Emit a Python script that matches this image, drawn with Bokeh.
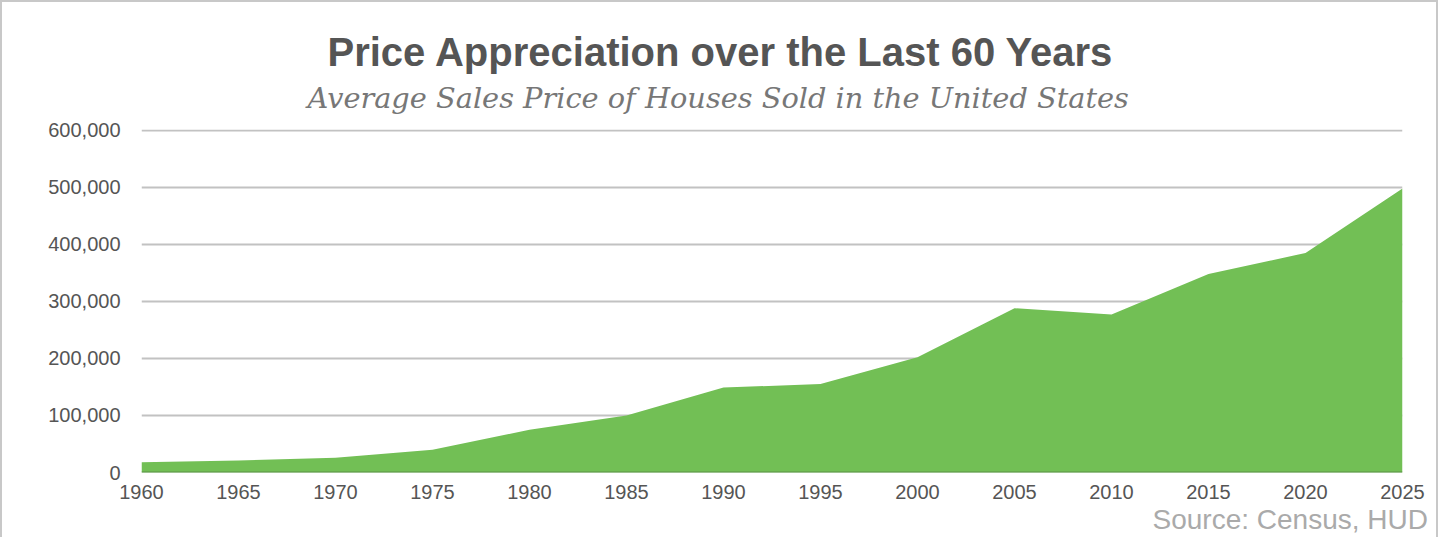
from bokeh.plotting import figure
from bokeh.models import Range1d, FixedTicker, NumeralTickFormatter, Title
from bokeh.embed import file_html
from bokeh.resources import INLINE

years = [1960, 1965, 1970, 1975, 1980, 1985, 1990, 1995, 2000, 2005, 2010, 2015, 2020, 2025]
avg_price = [18000, 21000, 26000, 40000, 75000, 100000, 149000, 155000, 202000, 288000, 277000, 348000, 385000, 498000]
y_ticks = [0, 100000, 200000, 300000, 400000, 500000, 600000]

title_text = "Price Appreciation over the Last 60 Years"
subtitle_text = "Average Sales Price of Houses Sold in the United States"
source_text = "Source: Census, HUD"

p = figure(width=1438, height=537, output_backend="svg", toolbar_location=None,
           x_range=Range1d(1960, 2025), y_range=Range1d(0, 601500),
           min_border_left=139, min_border_right=38, min_border_top=127, min_border_bottom=67)
p.title = None
p.outline_line_color = None
p.background_fill_color = "white"
p.border_fill_color = "white"
p.styles = {"border-left": "2px solid #c8c8c8", "border-top": "2px solid #c8c8c8",
            "border-right": "2px solid #c8c8c8"}

# grid
p.xgrid.grid_line_color = None
p.ygrid.grid_line_color = "#c2c2c2"
p.ygrid.grid_line_width = 2

# area
p.varea(x=years, y1=0, y2=avg_price, fill_color="#72bf55")
p.line(x=[years[0], years[-1]], y=[0, 0], line_color="#5b9146", line_width=2)

# axes
p.yaxis.ticker = FixedTicker(ticks=y_ticks)
p.yaxis.formatter = NumeralTickFormatter(format="0,0")
p.yaxis.axis_line_color = None
p.yaxis.major_tick_line_color = None
p.yaxis.minor_tick_line_color = None
p.yaxis.major_label_text_font = "Liberation Sans"
p.yaxis.major_label_text_font_size = "20px"
p.yaxis.major_label_text_color = "#555555"
p.yaxis.major_label_standoff = 15

p.xaxis.ticker = FixedTicker(ticks=years)
p.xaxis.axis_line_color = None
p.xaxis.major_tick_line_color = None
p.xaxis.minor_tick_line_color = None
p.xaxis.major_label_text_font = "Liberation Sans"
p.xaxis.major_label_text_font_size = "20px"
p.xaxis.major_label_text_color = "#555555"
p.xaxis.major_label_standoff = 6

# titles: nearest the frame is added first
sub = Title(text=subtitle_text, align="left", offset=166, standoff=30,
            text_font="DejaVu Serif", text_font_style="italic", text_font_size="28.8px",
            text_color="#777777")
main = Title(text=title_text, align="left", offset=186, standoff=-20,
             text_font="Liberation Sans", text_font_style="bold", text_font_size="40px",
             text_color="#555555")
p.add_layout(sub, "above")
p.add_layout(main, "above")

src = Title(text=source_text, align="left", offset=1011, standoff=0,
            text_font="Liberation Sans", text_font_style="normal", text_font_size="28px",
            text_color="#aaaaaa")
p.add_layout(src, "below")

open("out.html", "w").write(file_html(p, INLINE))
